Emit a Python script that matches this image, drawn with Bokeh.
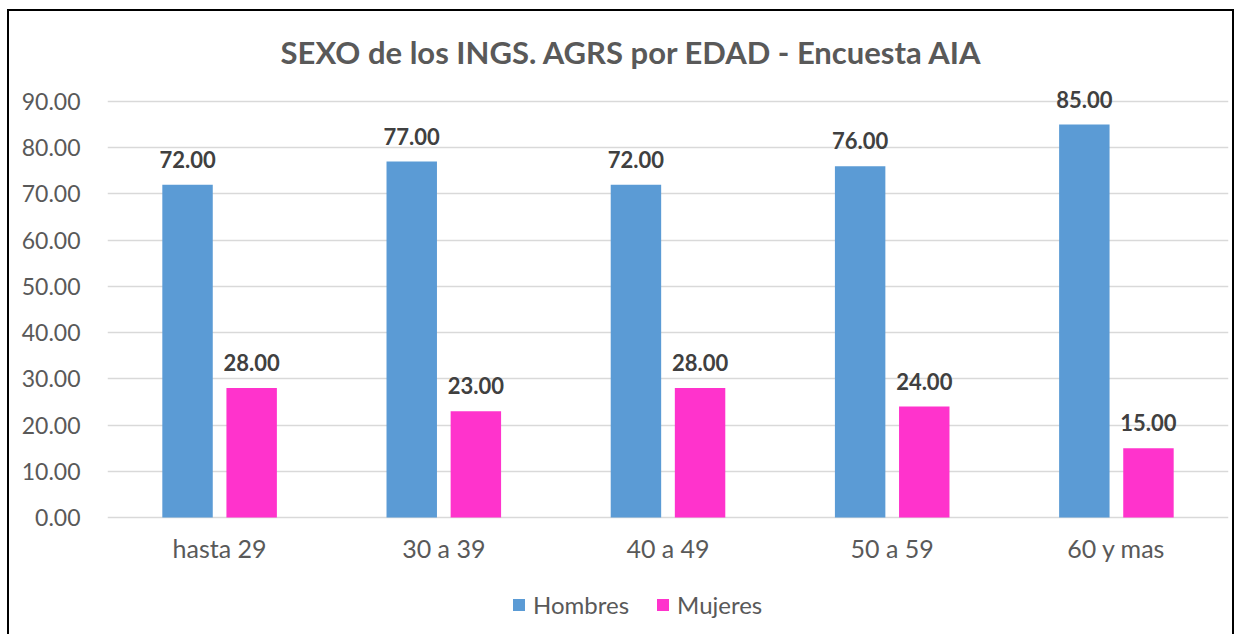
from bokeh.plotting import figure
from bokeh.models import (ColumnDataSource, Legend, LegendItem, NumeralTickFormatter,
                          FixedTicker, LabelSet, Label, Range1d)
from bokeh.transform import dodge
from bokeh.core.properties import value
from bokeh.embed import file_html
from bokeh.resources import INLINE

categories = ["hasta 29", "30 a 39", "40 a 49", "50 a 59", "60 y mas"]
hombres = [72.0, 77.0, 72.0, 76.0, 85.0]
mujeres = [28.0, 23.0, 28.0, 24.0, 15.0]
y_ticks = [0, 10, 20, 30, 40, 50, 60, 70, 80, 90]
title_text = "SEXO de los INGS. AGRS por EDAD - Encuesta AIA"

FONT = "Lato"
TXT = "#595959"

src = ColumnDataSource(dict(
    cat=categories, h=hombres, m=mujeres,
    hl=[f"{v:.2f}" for v in hombres], ml=[f"{v:.2f}" for v in mujeres],
    lab_y=[-8.87] * len(categories),
))

# frame spans the full canvas height; y range chosen so 0..90 sits where the reference has it
p = figure(x_range=categories, y_range=Range1d(-25.745, 109.47), width=1227, height=625,
           output_backend="svg", toolbar_location=None,
           min_border_left=98, min_border_right=8, min_border_top=0, min_border_bottom=0)

p.outline_line_color = None
p.background_fill_color = "white"
p.border_fill_color = "white"

off = 0.143
w = 0.225
rb = p.vbar(x=dodge("cat", -off, range=p.x_range), top="h", width=w, source=src,
            fill_color="#5B9BD5", line_color=None)
rp = p.vbar(x=dodge("cat", off, range=p.x_range), top="m", width=w, source=src,
            fill_color="#FF33CC", line_color=None)

for col, lab, o in (("h", "hl", -off), ("m", "ml", off)):
    p.add_layout(LabelSet(x=dodge("cat", o, range=p.x_range), y=col, text=lab, source=src,
                          text_align="center", text_baseline="alphabetic", y_offset=17,
                          text_font=value(FONT), text_font_size="22px", text_font_style="bold",
                          text_color="#404040"))

# category labels under the bars
p.add_layout(LabelSet(x="cat", y="lab_y", text="cat", source=src,
                      text_align="center", text_baseline="alphabetic",
                      text_font=value(FONT), text_font_size="25px", text_color=TXT))

# title
p.add_layout(Label(x=2.339, y=100.6, text=title_text, text_align="center",
                   text_baseline="middle", text_font=FONT, text_font_size="31px",
                   text_font_style="bold", text_color=TXT))

p.xaxis.visible = False

p.yaxis.ticker = FixedTicker(ticks=y_ticks)
p.yaxis.formatter = NumeralTickFormatter(format="0.00")
p.yaxis.axis_line_color = None
p.yaxis.major_tick_line_color = None
p.yaxis.minor_tick_line_color = None
p.yaxis.major_label_text_font = FONT
p.yaxis.major_label_text_font_size = "23px"
p.yaxis.major_label_text_color = TXT
p.yaxis.major_label_standoff = 21

p.xgrid.grid_line_color = None
p.ygrid.grid_line_color = "#D9D9D9"
p.ygrid.grid_line_width = 1.5

legend = Legend(items=[LegendItem(label="Hombres", renderers=[rb]),
                       LegendItem(label="Mujeres", renderers=[rp])],
                orientation="horizontal", location=(404, 17),
                label_text_font=FONT, label_text_font_size="24px", label_text_color=TXT,
                glyph_width=15, glyph_height=15, spacing=26, label_standoff=7,
                border_line_color=None, background_fill_alpha=0, margin=0, padding=0)
p.add_layout(legend, "center")

p.styles = {"margin-left": "7px", "margin-top": "9px",
            "border-left": "2px solid black", "border-top": "2px solid black",
            "border-right": "2px solid black"}

open("out.html", "w").write(file_html(p, INLINE))
